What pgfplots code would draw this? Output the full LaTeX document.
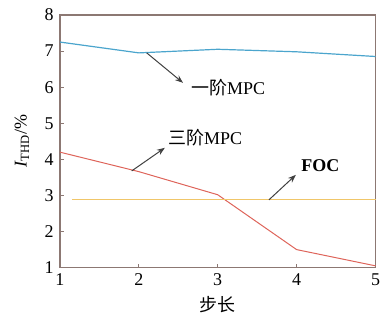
\documentclass[border=0pt]{standalone}
\usepackage{fontspec}
\setmainfont{Liberation Serif}
\newfontfamily\cjk{Noto Sans CJK SC}
\usepackage{pgfplots}
\pgfplotsset{compat=1.18}
\usetikzlibrary{arrows.meta}
\definecolor{bluel}{RGB}{75,165,205}
\definecolor{redl}{RGB}{222,100,90}
\definecolor{focl}{RGB}{240,198,105}
\definecolor{frame}{RGB}{140,120,115}
\begin{document}
\fontsize{18bp}{21bp}\selectfont
\begin{tikzpicture}
\begin{axis}[
  scale only axis,
  width=316bp, height=253bp,
  xmin=1, xmax=5, ymin=1, ymax=8,
  xtick={1,2,3,4,5}, ytick={1,2,3,4,5,6,7,8},
  tick align=inside,
  xtick pos=bottom, ytick pos=left,
  major tick length=4bp,
  axis line style={frame, line width=1.2bp},
  tick style={frame, line width=0.8bp},
  /pgf/number format/assume math mode=true,
  ticklabel style={font=\fontsize{18bp}{21bp}\selectfont},
  xlabel={\cjk\fontsize{18bp}{21bp}\selectfont 步长},
  ylabel={\textit{I}\textsubscript{THD}/\%},
  xlabel style={at={([yshift=-37bp]axis description cs:0.5,0)}, anchor=center},
  ylabel style={at={([xshift=-38bp]axis description cs:0,0.5)}, anchor=center},
  clip=false,
]
\addplot[bluel, line width=1.2bp] coordinates {(1,7.25) (2,6.95) (3,7.05) (4,6.98) (5,6.85)};
\addplot[redl, line width=1bp] coordinates {(1,4.2) (2,3.66) (3,3.02) (4,1.5) (5,1.05)};
\addplot[focl, line width=1.4bp] coordinates {(1.15,2.88) (5,2.88)};
\draw[-{Stealth[length=8bp,width=6bp]}, black!75, line width=1bp] (axis cs:2.10,6.95) -- (axis cs:2.56,6.12);
\node[anchor=west, inner sep=0pt] at (axis cs:2.66,5.98) {{\cjk 一阶}MPC};
\draw[-{Stealth[length=8bp,width=6bp]}, black!75, line width=1bp] (axis cs:1.91,3.68) -- (axis cs:2.33,4.32);
\node[inner sep=0pt] at (axis cs:2.84,4.6) {{\cjk 三阶}MPC};
\draw[-{Stealth[length=8bp,width=6bp]}, black!75, line width=1bp] (axis cs:3.65,2.88) -- (axis cs:3.99,3.57);
\node[inner sep=0pt] at (axis cs:4.3,3.82) {\textbf{FOC}};
\path (rel axis cs:0,0) ++(-60bp,-53bp) (rel axis cs:1,1) ++(5bp,15bp);
\end{axis}
\end{tikzpicture}
\end{document}
